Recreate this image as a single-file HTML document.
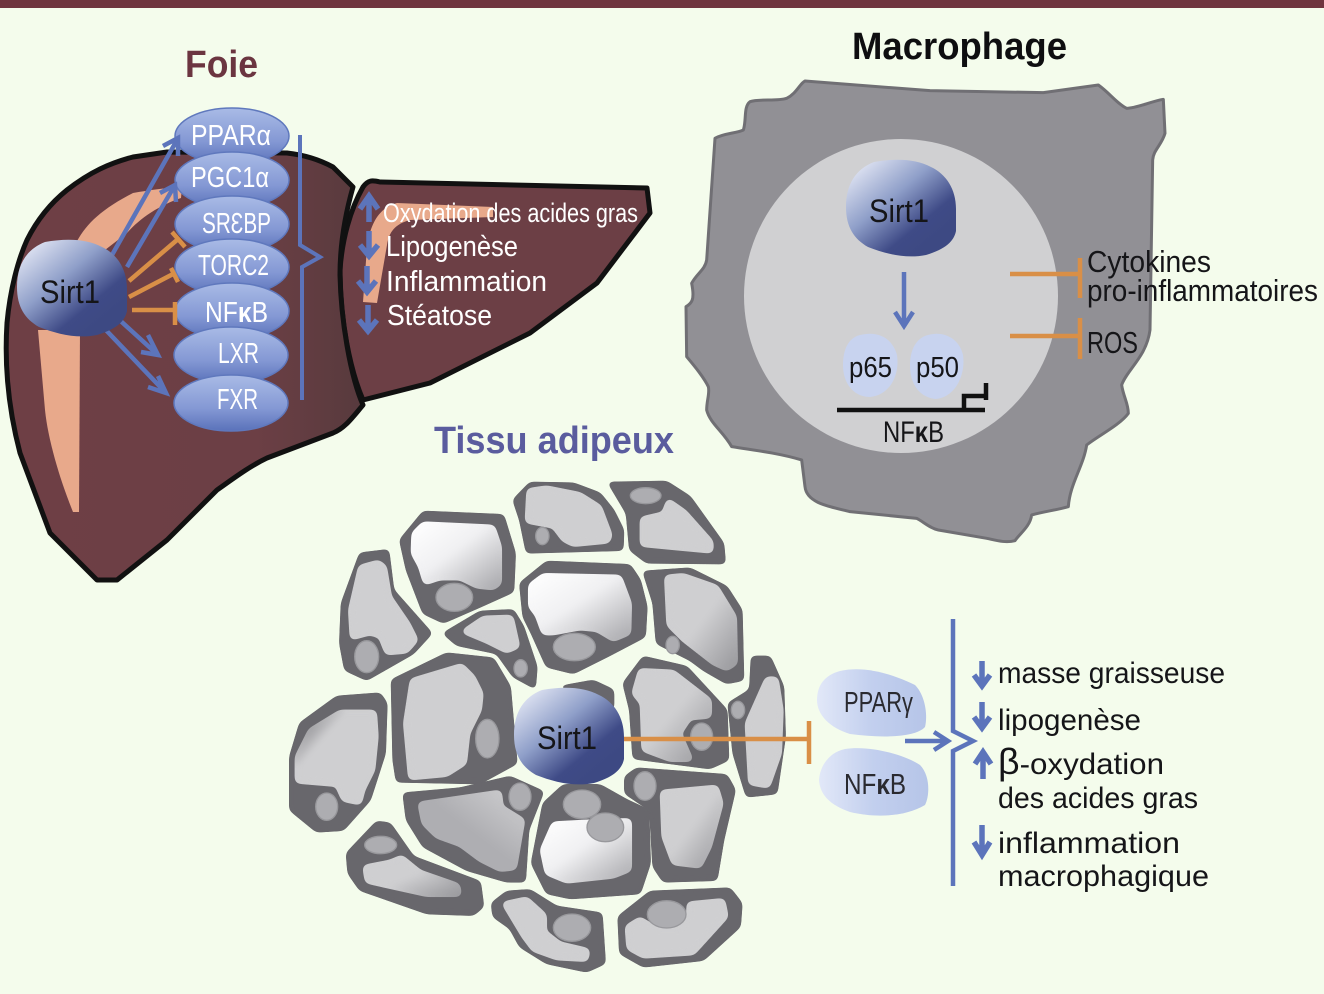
<!DOCTYPE html>
<html><head><meta charset="utf-8"><style>
html,body{margin:0;padding:0;background:#f4fcec}
svg{display:block}
text{font-family:"Liberation Sans",sans-serif}
.w{fill:#fff}
.k{fill:#151518}
.o{stroke:#68676c;stroke-width:6;stroke-linejoin:round;fill:#68676c}
.o path{filter:url(#r)}
.i{fill:#cfcfd1}
.n{fill:#adadb1;stroke:#98989c;stroke-width:4}
.b{fill:none;stroke:#5c74bb;stroke-width:4}
.a{fill:none;stroke:#5c74bb;stroke-width:4.5}
.h{fill:none;stroke:#5c74bb;stroke-width:5.5}
.t{fill:none;stroke:#d98f47;stroke-width:4.5}
</style></head><body>
<svg width="1324" height="994" viewBox="0 0 1324 994" xmlns="http://www.w3.org/2000/svg">
<defs>
<filter id="r" x="-15%" y="-15%" width="130%" height="130%" color-interpolation-filters="sRGB"><feGaussianBlur stdDeviation="9"/><feColorMatrix type="matrix" values="1 0 0 0 0 0 1 0 0 0 0 0 1 0 0 0 0 0 18 -8.5"/></filter>
<filter id="r2" x="-5%" y="-5%" width="110%" height="110%" color-interpolation-filters="sRGB"><feGaussianBlur stdDeviation="8"/><feColorMatrix type="matrix" values="1 0 0 0 0 0 1 0 0 0 0 0 1 0 0 0 0 0 18 -3.5"/></filter>
<linearGradient id="s" x1="0.1" y1="0.05" x2="0.8" y2="0.8"><stop offset="0" stop-color="#e2e6f4"/><stop offset=".45" stop-color="#8f9fc9"/><stop offset=".82" stop-color="#3f4b87"/><stop offset="1" stop-color="#3d4983"/></linearGradient>
<linearGradient id="e" x1="0" y1="0" x2="0" y2="1"><stop offset="0" stop-color="#a9bbe6"/><stop offset=".6" stop-color="#8498d4"/><stop offset="1" stop-color="#5a72ba"/></linearGradient>
<linearGradient id="l" x1="0" y1="0" x2="1" y2="0"><stop offset="0" stop-color="#e2e8f8"/><stop offset=".5" stop-color="#c2cfee"/><stop offset="1" stop-color="#b6c5e8"/></linearGradient>
<linearGradient id="g1" x1="0" y1="0" x2="1" y2="1"><stop offset="0" stop-color="#fff"/><stop offset=".45" stop-color="#f0f0f2"/><stop offset="1" stop-color="#a8a8ac"/></linearGradient>
<linearGradient id="g2" x1="0" y1="0" x2=".7" y2=".7"><stop offset="0" stop-color="#5e5d62"/><stop offset=".45" stop-color="#cfcfd1"/></linearGradient>
<linearGradient id="g3" x1="0" y1="0" x2="1" y2="1"><stop offset="0" stop-color="#cfcfd1"/><stop offset=".5" stop-color="#cfcfd1"/><stop offset="1" stop-color="#98989c"/></linearGradient>
<linearGradient id="g4" x1="1" y1="0" x2="0" y2="1"><stop offset="0" stop-color="#cfcfd1"/><stop offset=".5" stop-color="#aeaeb2"/><stop offset="1" stop-color="#aeaeb2"/></linearGradient>
<linearGradient id="lv" x1="0" y1="0" x2="1" y2="0"><stop offset="0" stop-color="#6e3f45"/><stop offset=".7" stop-color="#6c3f45"/><stop offset="1" stop-color="#573a3d"/></linearGradient>
<path id="blob" d="M28,3C50,-1 70,0 85,8C100,15 110,30 110,50L110,72C108,82 100,90 80,96C60,100 40,95 22,88C8,80 0,68 0,48C0,25 10,10 28,3Z"/>
</defs>
<rect width="1324" height="994" fill="#f4fcec"/>
<rect width="1324" height="8" fill="#6f353f"/>

<!-- Titles -->
<text x="185" y="77" font-size="38" font-weight="700" fill="#6b3540" textLength="73" lengthAdjust="spacingAndGlyphs">Foie</text>
<text x="852" y="59" font-size="38" font-weight="700" fill="#0e0e10" textLength="215" lengthAdjust="spacingAndGlyphs">Macrophage</text>
<text x="434" y="453" font-size="38" font-weight="700" fill="#5a5c9e" textLength="240" lengthAdjust="spacingAndGlyphs">Tissu adipeux</text>

<!-- Liver -->
<path d="M363,187C368,180 372,180 380,182L647,188L650,213L597,283L530,333L430,383L363,400C350,370 340,320 340,270C342,240 350,210 363,187Z" fill="#6c3f45" stroke="#111" stroke-width="5" stroke-linejoin="round"/>
<path d="M397,203L493,207L493,217L410,220C395,224 389,232 387,245L377,303L363,302L367,247C370,225 378,208 397,203Z" fill="#e8a98b"/>
<path d="M7,323C10,290 18,260 27,240C38,218 52,202 67,190C90,172 110,163 133,157L167,152L287,153C305,155 320,160 333,167L353,187C345,215 340,245 340,275C341,320 350,375 363,405C352,418 345,428 333,433L267,458C250,466 234,478 217,490L167,540L117,580L97,580L50,533L20,453C10,415 4,370 7,323Z" fill="url(#lv)" stroke="#111" stroke-width="5" stroke-linejoin="round"/>
<path d="M75,245C85,225 100,210 133,193C150,190 165,188 182,187L181,198C160,205 140,218 127,233L105,250Z" fill="#e8a98b"/>
<path d="M38,330H80L79,512L73,512C60,480 48,440 45,410Z" fill="#e8a98b"/>

<!-- Liver ellipses -->
<g fill="url(#e)" stroke="#5f78bd" stroke-width="1.5">
<ellipse cx="232" cy="136" rx="57" ry="28"/>
<ellipse cx="232" cy="180" rx="57" ry="28"/>
<ellipse cx="232" cy="224" rx="57" ry="28"/>
<ellipse cx="232" cy="267" rx="57" ry="28"/>
<ellipse cx="232" cy="311" rx="57" ry="28"/>
<ellipse cx="231" cy="355" rx="57" ry="28"/>
<ellipse cx="231" cy="403" rx="57" ry="28"/>
</g>
<g font-size="29" fill="#fff">
<text class="w" x="191" y="145" textLength="80" lengthAdjust="spacingAndGlyphs">PPARα</text>
<text class="w" x="191" y="187" textLength="78" lengthAdjust="spacingAndGlyphs">PGC1α</text>
<text class="w" x="202" y="233" textLength="69" lengthAdjust="spacingAndGlyphs">SRƐBP</text>
<text class="w" x="198" y="275" textLength="71" lengthAdjust="spacingAndGlyphs">TORC2</text>
<text class="w" x="205" y="322" textLength="63" lengthAdjust="spacingAndGlyphs">NF<tspan font-weight="700">κ</tspan>B</text>
<text class="w" x="218" y="363" textLength="41" lengthAdjust="spacingAndGlyphs">LXR</text>
<text class="w" x="217" y="409" textLength="41" lengthAdjust="spacingAndGlyphs">FXR</text>
</g>

<!-- Liver connectors -->
<path class="a" d="M112,255L177,140M163,146L178,138L178,156"/>
<path class="a" d="M127,267L175,185M160,193L175,185L176,202"/>
<path class="a" d="M113,314L158,355M148,335L158,355L141,352"/>
<path class="a" d="M103,327L166,393M158,376L166,393L148,387"/>
<path class="t" d="M129,281L177,240M172,232L185,247M129,297L175,273M171,268L178,282M132,310H175"/>
<path class="t" d="M175,302V325"/>
<path class="b" d="M300,135V245L320,257L302,267V400"/>
<use href="#blob" transform="translate(17 239)" fill="url(#s)"/>
<text x="40" y="303" font-size="32" class="k" textLength="60" lengthAdjust="spacingAndGlyphs">Sirt1</text>

<!-- Right lobe text -->
<g fill="#fff">
<text class="w" x="383" y="222" font-size="27" textLength="255" lengthAdjust="spacingAndGlyphs">Oxydation des acides gras</text>
<text class="w" x="386" y="256" font-size="29" textLength="132" lengthAdjust="spacingAndGlyphs">Lipogenèse</text>
<text class="w" x="386" y="291" font-size="29" textLength="161" lengthAdjust="spacingAndGlyphs">Inflammation</text>
<text class="w" x="387" y="325" font-size="29" textLength="105" lengthAdjust="spacingAndGlyphs">Stéatose</text>
</g>
<path class="h" d="M369,222V196M360,209L369,196L378,209"/>
<path class="h" d="M369,231V256M360,245L369,256L378,245"/>
<path class="h" d="M367,266V292M358,281L367,292L376,281"/>
<path class="h" d="M368,305V331M359,320L368,331L377,320"/>

<!-- Macrophage -->
<path transform="translate(690 70) scale(.33333)" d="M345,33L720,62L1060,68L1225,45C1260,70 1280,100 1310,115C1340,115 1380,95 1420,88L1425,190C1415,225 1390,240 1388,270L1380,780C1370,860 1310,900 1295,945C1300,980 1315,1000 1315,1030C1290,1065 1220,1100 1190,1125C1180,1190 1140,1240 1135,1310C1100,1320 1060,1325 1025,1335C1020,1370 990,1390 975,1412C945,1420 915,1410 890,1405L745,1380C720,1375 700,1355 680,1345L480,1325C420,1310 350,1300 345,1250L335,1170C270,1150 190,1140 125,1130C100,1085 60,1060 50,1020C50,990 60,970 55,950C40,920 15,890 -10,860L-12,710C5,700 15,690 5,640C20,610 45,600 50,570L75,205C100,190 140,190 160,180C170,150 160,110 180,95C210,85 260,95 290,85C320,70 330,40 345,33Z" fill="#919095" stroke="#706f74" stroke-width="9" stroke-linejoin="round"/>
<circle cx="901" cy="296" r="157" fill="#d0d0d2"/>
<use href="#blob" transform="translate(846 159)" fill="url(#s)"/>
<text x="869" y="222" font-size="32" class="k" textLength="60" lengthAdjust="spacingAndGlyphs">Sirt1</text>
<path class="a" d="M904,272V326M895,312L904,326L913,312"/>
<path d="M860,335C880,330 893,340 897,355C900,375 890,395 870,397C855,397 843,385 843,365C843,350 848,338 860,335Z" fill="#c8d3ef"/>
<path d="M928,335C945,330 960,340 963,355C966,375 955,398 935,399C920,397 910,385 910,365C910,350 916,338 928,335Z" fill="#c8d3ef"/>
<text x="849" y="377" font-size="29" class="k" textLength="43" lengthAdjust="spacingAndGlyphs">p65</text>
<text x="916" y="377" font-size="29" class="k" textLength="43" lengthAdjust="spacingAndGlyphs">p50</text>
<path d="M837,410H985M964,410V396H986M986,383V400" fill="none" stroke="#111" stroke-width="4.5"/>
<text x="883" y="442" font-size="30" class="k" textLength="61" lengthAdjust="spacingAndGlyphs">NF<tspan font-weight="700">κ</tspan>B</text>
<path class="t" d="M1010,274H1080M1080,258V298M1010,336H1080M1080,318V359"/>
<text class="k" x="1087" y="272" font-size="31" textLength="124" lengthAdjust="spacingAndGlyphs">Cytokines</text>
<text class="k" x="1087" y="301" font-size="31" textLength="231" lengthAdjust="spacingAndGlyphs">pro-inflammatoires</text>
<text class="k" x="1087" y="353" font-size="31" textLength="51" lengthAdjust="spacingAndGlyphs">ROS</text>

<!-- Adipose -->
<g transform="translate(280 470) scale(.33333)">
<g class="o">
<path d="M700,90L750,38L880,40L960,70L1000,120L1030,180L1028,240L740,248L720,150Z"/>
<path d="M985,38L1160,35L1230,80L1330,220L1335,280L1100,278L1050,240L1040,130Z"/>
<path d="M360,210L430,125L670,135L705,250L700,365L600,410L490,458L430,430L380,300Z"/>
<path d="M185,400L240,250L325,240L340,360L455,490L400,550L260,630L195,600L180,520Z"/>
<path d="M490,490L600,425L700,420L730,470L770,590L765,655L700,620L650,550L530,525Z"/>
<path d="M720,340L800,275L1050,285L1080,330L1100,410L1095,500L990,555L880,610L800,590L755,490L730,440Z"/>
<path d="M1090,305L1230,295L1340,350L1385,420L1390,630L1340,640L1270,600L1230,570L1130,520L1120,400Z"/>
<path d="M335,630L500,550L640,565L690,650L710,880L600,940L350,935L340,870Z"/>
<path d="M30,860L60,760L170,680L300,670L320,700L315,850L270,990L190,1080L110,1085L30,1020Z"/>
<path d="M1030,640L1090,560L1220,590L1340,720L1345,870L1290,895L1060,865L1050,720Z"/>
<path d="M1415,560L1470,560L1510,650L1515,800L1490,970L1400,980L1360,850L1345,700L1410,660Z"/>
<path d="M370,970L540,955L690,920L790,965L745,1080L735,1235L680,1235L560,1200L430,1130L380,1050Z"/>
<path d="M790,1000L850,945L960,945L1040,990L1105,1020L1110,1180L1080,1270L870,1285L800,1270L755,1180Z"/>
<path d="M1035,920L1070,895L1340,915L1365,960L1330,1110L1310,1230L1150,1235L1120,1190L1110,1020L1035,970Z"/>
<path d="M200,1150L290,1055L330,1060L400,1160L600,1235L610,1310L580,1335L440,1330L340,1295L240,1260L205,1210Z"/>
<path d="M635,1300L680,1265L750,1260L830,1310L965,1330L975,1480L920,1505L800,1480L720,1430L690,1375L640,1340Z"/>
<path d="M1015,1340L1110,1265L1350,1255L1385,1300L1380,1370L1270,1470L1090,1490L1020,1450Z"/>
<path d="M840,650L940,632L1000,660L1000,720Z"/>
</g>
<g filter="url(#r2)">
<path class="i" d="M745,60L800,52L900,72L960,110L975,150L992,195L985,215L880,225L850,210L820,170L740,155Z"/>
<path class="i" d="M1165,90L1215,125L1295,215L1295,245L1190,235L1085,225L1085,145L1150,130Z"/>
<path fill="url(#g1)" d="M400,190L430,160L640,170L660,230L660,340L640,355L590,350L540,325L480,325L435,340L420,290L398,250Z"/>
<path class="i" d="M210,420L240,290L295,275L315,290L330,380L385,460L410,510L380,545L320,550L300,500L270,490L215,505Z"/>
<path class="i" d="M548,485L610,443L695,440L715,530L680,545L620,515Z"/>
<path fill="url(#g1)" d="M750,345L790,315L1020,320L1050,400L1048,490L1000,510L950,480L900,475L820,490L790,490L770,435L750,410Z"/>
<path fill="url(#g3)" d="M1158,320L1210,315L1310,350L1365,440L1368,580L1340,598L1300,580L1210,510L1165,465Z"/>
<path class="i" d="M395,630L545,585L580,620L605,670L600,720L565,790L555,880L500,915L390,925L375,760Z"/>
<path fill="url(#g2)" d="M50,860L90,780L180,725L285,725L290,800L280,900L250,960L240,1000L190,990L170,945L50,935Z"/>
<path fill="url(#g3)" d="M1060,670L1080,600L1180,605L1290,690L1290,740L1230,745L1200,790L1235,870L1170,870L1090,840L1085,700Z"/>
<path class="i" d="M1460,625L1490,625L1505,720L1500,850L1465,950L1410,940L1400,760Z"/>
<path fill="url(#g4)" d="M418,1000L660,965L665,1010L730,1050L705,1195L660,1200L600,1170L540,1125L470,1100L430,1060Z"/>
<path fill="url(#g1)" d="M820,1060L920,1055L1050,1050L1050,1200L1000,1220L860,1235L800,1210L785,1140Z"/>
<path fill="url(#g3)" d="M1145,965L1310,950L1325,1000L1290,1130L1260,1190L1180,1180L1150,1100Z"/>
<path fill="url(#g3)" d="M253,1190L330,1175L365,1160L420,1205L535,1245L540,1275L440,1275L260,1235Z"/>
<path class="i" d="M670,1300L740,1285L795,1335L795,1385L840,1420L925,1440L920,1470L830,1465L760,1440L730,1400L700,1350Z"/>
<path class="i" d="M1040,1370L1080,1345L1130,1375L1200,1375L1225,1330L1225,1300L1330,1290L1340,1340L1240,1450L1090,1460L1045,1435Z"/>
</g>
<g class="n">
<ellipse cx="787" cy="198" rx="20" ry="26"/>
<ellipse cx="1097" cy="77" rx="46" ry="24"/>
<ellipse cx="523" cy="382" rx="55" ry="42"/>
<ellipse cx="260" cy="560" rx="36" ry="48"/>
<ellipse cx="722" cy="595" rx="20" ry="26"/>
<ellipse cx="883" cy="531" rx="63" ry="41"/>
<ellipse cx="1178" cy="525" rx="20" ry="26"/>
<ellipse cx="622" cy="806" rx="35" ry="58"/>
<ellipse cx="140" cy="1010" rx="33" ry="41"/>
<ellipse cx="1265" cy="800" rx="33" ry="41"/>
<ellipse cx="1374" cy="720" rx="20" ry="26"/>
<ellipse cx="720" cy="980" rx="33" ry="41"/>
<ellipse cx="906" cy="1003" rx="56" ry="43"/>
<ellipse cx="976" cy="1072" rx="55" ry="43"/>
<ellipse cx="1095" cy="948" rx="33" ry="43"/>
<ellipse cx="302" cy="1125" rx="48" ry="26"/>
<ellipse cx="876" cy="1373" rx="56" ry="41"/>
<ellipse cx="1160" cy="1333" rx="58" ry="41"/>
</g>
</g>
<use href="#blob" transform="translate(514 687)" fill="url(#s)"/>
<text x="537" y="749" font-size="32" class="k" textLength="60" lengthAdjust="spacingAndGlyphs">Sirt1</text>
<path class="t" d="M624,739H808M809,721V764"/>
<path d="M840,671C865,665 895,675 915,685C925,695 928,715 925,727C915,738 880,738 850,734C830,728 817,715 817,700C817,685 825,675 840,671Z" fill="url(#l)"/>
<path d="M845,749C870,745 905,755 920,765C930,775 930,795 925,805C905,817 875,818 850,812C830,805 820,795 819,780C820,765 830,752 845,749Z" fill="url(#l)"/>
<text x="844" y="712" font-size="29" fill="#2a2a30" textLength="69" lengthAdjust="spacingAndGlyphs">PPARγ</text>
<text x="844" y="794" font-size="29" fill="#2a2a30" textLength="62" lengthAdjust="spacingAndGlyphs">NF<tspan font-weight="700">κ</tspan>B</text>
<path class="a" d="M905,741H947M934,732L948,741L934,750"/>
<path class="b" d="M953,619V731L973,741L953,751V886" style="stroke-width:4.5"/>
<path class="h" d="M982,661V686M974,675L982,686L990,675"/>
<path class="h" d="M982,702V728M974,717L982,728L990,717"/>
<path class="h" d="M983,779V752M975,764L983,752L991,764"/>
<path class="h" d="M982,825V855M974,842L982,855L990,842"/>
<text class="k" x="998" y="683" font-size="30" textLength="227" lengthAdjust="spacingAndGlyphs">masse graisseuse</text>
<text class="k" x="998" y="730" font-size="30" textLength="143" lengthAdjust="spacingAndGlyphs">lipogenèse</text>
<text class="k" x="998" y="774" font-size="30" textLength="166" lengthAdjust="spacingAndGlyphs"><tspan font-size="36">β</tspan>-oxydation</text>
<text class="k" x="998" y="808" font-size="30" textLength="200" lengthAdjust="spacingAndGlyphs">des acides gras</text>
<text class="k" x="998" y="853" font-size="30" textLength="182" lengthAdjust="spacingAndGlyphs">inflammation</text>
<text class="k" x="998" y="886" font-size="30" textLength="211" lengthAdjust="spacingAndGlyphs">macrophagique</text>
</svg>
</body></html>
